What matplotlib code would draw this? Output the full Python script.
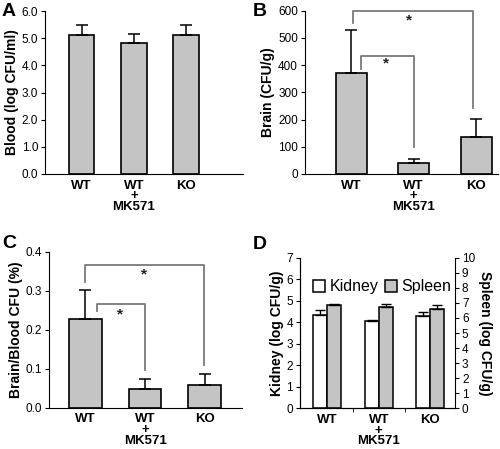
import numpy as np
import matplotlib
matplotlib.use("Agg")
import matplotlib.pyplot as plt

plt.rcParams['font.family'] = ['Liberation Sans', 'DejaVu Sans']

# data
groups = ['WT', 'WT\n+\nMK571', 'KO']
blood = [5.12, 4.82, 5.10]
blood_err = [0.35, 0.32, 0.37]
brain = [370, 42, 135]
brain_err = [160, 14, 67]
ratio = [0.227, 0.048, 0.059]
ratio_err = [0.074, 0.025, 0.027]
kidney = [4.35, 4.05, 4.30]
kidney_err = [0.22, 0.04, 0.16]
spleen = [6.88, 6.73, 6.58]
spleen_err = [0.06, 0.20, 0.26]

# significance brackets: (x_left, x_right, y_top, y_left_end, y_right_end, star_x, star_y)
brain_sig = [(0.15, 1.0, 435, 385, 100, 0.55, 405),
             (0.03, 1.95, 600, 553, 241, 0.93, 565)]
ratio_sig = [(0.19, 1.0, 0.265, 0.248, 0.097, 0.58, 0.238),
             (0.0, 1.98, 0.366, 0.322, 0.11, 0.98, 0.342)]

GRAY = '#c4c4c4'
W, H = 500, 449


def rect(l, t, r, b):
    return [l / W, 1 - b / H, (r - l) / W, (b - t) / H]


def style(ax):
    ax.spines['top'].set_visible(False)
    ax.spines['right'].set_visible(False)
    ax.tick_params(axis='y', direction='out', length=3, labelsize=8.5, pad=2)
    ax.tick_params(axis='x', length=0, labelsize=9.5, pad=4)
    for lab in ax.get_xticklabels():
        lab.set_fontweight('bold')
        lab.set_linespacing(0.85)


def bar_panel(ax, vals, errs, width):
    x = np.arange(len(vals))
    ax.bar(x, vals, width, color=GRAY, edgecolor='black', linewidth=1.2,
           yerr=[np.zeros(len(errs)), errs],
           error_kw=dict(ecolor='black', elinewidth=1.1, capsize=4, capthick=1.1))
    ax.set_xticks(x)
    ax.set_xticklabels(groups, va='top')


def brackets(ax, sig):
    for xl, xr, yt, yl, yr, sx, sy in sig:
        ax.plot([xl, xl, xr, xr], [yl, yt, yt, yr], color='#7a7a7a', lw=1.3,
                clip_on=False)
        ax.text(sx, sy, '*', ha='center', va='center', fontsize=11,
                fontweight='bold', color='#222222')


fig = plt.figure(figsize=(5, 4.49), dpi=100)

# A
axA = fig.add_axes(rect(45, 11, 243, 174))
bar_panel(axA, blood, blood_err, 0.49)
axA.set_xlim(-0.70, 3.09)
axA.set_ylim(0, 6)
axA.set_yticks(np.arange(0, 6.1, 1.0))
axA.set_yticklabels(['%.1f' % v for v in np.arange(0, 6.1, 1.0)])
axA.set_ylabel('Blood (log CFU/ml)', fontsize=10, fontweight='bold', labelpad=2)
style(axA)
fig.text(9 / W, 1 - 12 / H, 'A', fontsize=14, fontweight='bold', ha='center', va='center')

# B
axB = fig.add_axes(rect(305, 10.7, 498, 174))
bar_panel(axB, brain, brain_err, 0.5)
axB.set_xlim(-0.74, 2.35)
axB.set_ylim(0, 600)
axB.set_yticks(np.arange(0, 601, 100))
axB.set_ylabel('Brain (CFU/g)', fontsize=10, fontweight='bold', labelpad=2)
brackets(axB, brain_sig)
style(axB)
fig.text(260 / W, 1 - 12 / H, 'B', fontsize=14, fontweight='bold', ha='center', va='center')

# C
axC = fig.add_axes(rect(49, 251.7, 241.7, 407.7))
bar_panel(axC, ratio, ratio_err, 0.55)
axC.set_xlim(-0.61, 2.62)
axC.set_ylim(0, 0.4)
axC.set_yticks(np.arange(0, 0.41, 0.1))
axC.set_yticklabels(['%.1f' % v for v in np.arange(0, 0.41, 0.1)])
axC.set_ylabel('Brain/Blood CFU (%)', fontsize=10, fontweight='bold', labelpad=2)
brackets(axC, ratio_sig)
style(axC)
fig.text(9 / W, 1 - 243 / H, 'C', fontsize=14, fontweight='bold', ha='center', va='center')

# D
axD = fig.add_axes(rect(300, 257.7, 455, 408.3))
x = np.arange(len(kidney))
bw = 0.275
hk = axD.bar(x - bw / 2, kidney, bw, color='white', edgecolor='black', linewidth=1.1,
             yerr=[np.zeros(3), kidney_err],
             error_kw=dict(ecolor='black', elinewidth=1.0, capsize=3.5, capthick=1.0),
             label='Kidney')
axD.set_xlim(-0.53, 2.48)
axD.set_ylim(0, 7)
axD.set_yticks(range(0, 8))
axD.set_xticks(x)
axD.set_xticklabels(groups, va='top')
axD.set_xticks([0.5, 1.5], minor=True)
axD.tick_params(axis='x', which='minor', length=3, direction='out')
axD.set_ylabel('Kidney (log CFU/g)', fontsize=10, fontweight='bold', labelpad=2)
style(axD)
axD2 = axD.twinx()
hs = axD2.bar(x + bw / 2, spleen, bw, color=GRAY, edgecolor='black', linewidth=1.1,
              yerr=[np.zeros(3), spleen_err],
              error_kw=dict(ecolor='black', elinewidth=1.0, capsize=3.5, capthick=1.0),
              label='Spleen')
axD2.set_ylim(0, 10)
axD2.set_yticks(range(0, 11))
axD2.spines['top'].set_visible(False)
axD2.tick_params(axis='y', direction='out', length=3, labelsize=8.5, pad=2)
axD2.set_ylabel('Spleen (log CFU/g)', fontsize=10, fontweight='bold', rotation=270,
                labelpad=12)
axD2.legend(handles=[hk, hs], labels=['Kidney', 'Spleen'], loc='upper center',
            bbox_to_anchor=(0.53, 0.93), ncol=2, frameon=False, fontsize=11.5,
            handlelength=0.75, handleheight=0.75, handletextpad=0.3,
            columnspacing=0.4, borderpad=0.2)
fig.text(260 / W, 1 - 245 / H, 'D', fontsize=14, fontweight='bold', ha='center', va='center')

fig.savefig('out.png', dpi=100)
